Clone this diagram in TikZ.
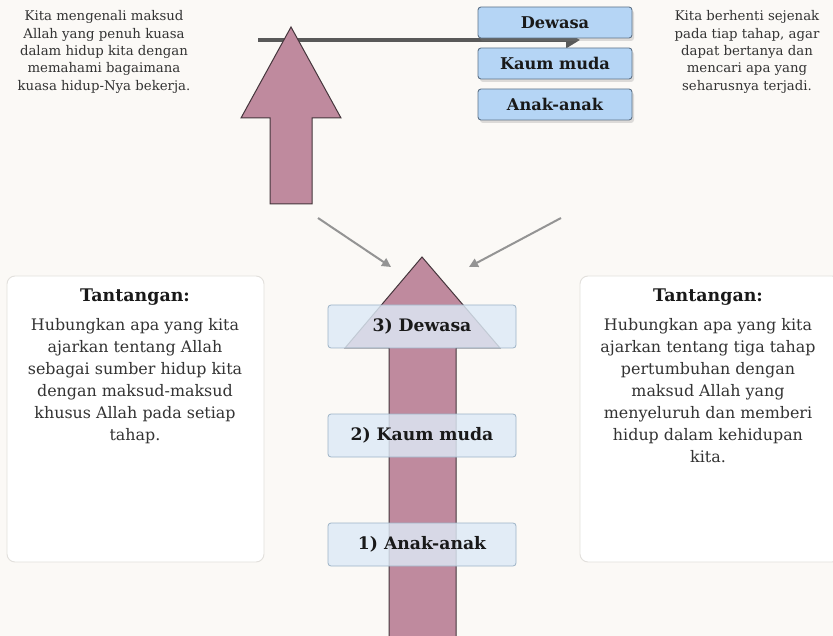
\documentclass[tikz,border=0pt]{standalone}
\usepackage{fontspec}
\setmainfont{DejaVu Serif}
\usetikzlibrary{arrows.meta,shadows}
\definecolor{bgc}{HTML}{FBF9F6}
\definecolor{mauve}{HTML}{BF8A9E}
\definecolor{mauveline}{HTML}{45363C}
\definecolor{topblue}{HTML}{B5D5F5}
\definecolor{topbord}{HTML}{5F7388}
\definecolor{stagefill}{HTML}{DDEAF6}
\definecolor{stagebord}{HTML}{9DB3C6}
\definecolor{sidebord}{HTML}{E2E0DC}
\definecolor{txt}{HTML}{333333}
\begin{document}
\begin{tikzpicture}[x=1pt,y=-1pt,
  toptext/.style={align=center,text=txt,font=\fontsize{13.3}{17.3}\selectfont,inner sep=0pt},
  agebox/.style={draw=topbord,fill=topblue,line width=0.9pt,rounded corners=3pt,minimum width=154pt,minimum height=31pt,inner sep=0pt,font=\fontsize{16.2}{19}\selectfont\bfseries,text=black!90,drop shadow={shadow xshift=2pt,shadow yshift=-3pt,opacity=0.25}},
  stagebox/.style={draw=stagebord,fill=stagefill,fill opacity=0.82,text opacity=1,line width=0.8pt,rounded corners=3pt,minimum width=188pt,minimum height=43pt,inner sep=0pt,font=\fontsize{17.2}{20}\selectfont\bfseries,text=black!90},
  sidebox/.style={draw=sidebord,fill=white,line width=0.9pt,rounded corners=8pt},
  sidetext/.style={align=center,text=txt,font=\fontsize{15.9}{22}\selectfont,inner sep=0pt},
  sidehead/.style={font=\fontsize{17.4}{20}\selectfont\bfseries,text=black!90,inner sep=0pt},
  blockarrow/.style={fill=mauve,draw=mauveline,line width=1pt,line join=miter},
  grayarrow/.style={draw=black!42,line width=2pt,-{Triangle[length=9pt,width=9pt]}}]
\fill[bgc] (0,0) rectangle (833,636);
\useasboundingbox (0,0) rectangle (833,636);

% horizontal line with arrow
\coordinate (hl) at (258,40);
\coordinate (hr) at (580,40);
\draw[draw=black!65,line width=3.5pt,-{Triangle[length=14pt,width=16pt]}] (hl) -- (hr);

% small block arrow
\path[blockarrow] (270,204) -- (270,118) -- (241,118) -- (291,27) -- (341,118) -- (312,118) -- (312,204) -- cycle;

% top age boxes
\node[agebox] (dew) at (555,22.5) {Dewasa};
\node[agebox] (kaum) at (555,63.5) {Kaum muda};
\node[agebox] (anak) at (555,104.5) {Anak-anak};

% top texts
\node[toptext] (tl) at (104,52) {Kita mengenali maksud\\Allah yang penuh kuasa\\dalam hidup kita dengan\\memahami bagaimana\\kuasa hidup-Nya bekerja.};
\node[toptext] (tr) at (747,52) {Kita berhenti sejenak\\pada tiap tahap, agar\\dapat bertanya dan\\mencari apa yang\\seharusnya terjadi.};

% big block arrow
\path[blockarrow] (389,640) -- (389,348) -- (345,348) -- (422,257) -- (500,348) -- (456,348) -- (456,640) -- cycle;

% gray arrows
\coordinate (g1s) at (318,218);
\coordinate (g1e) at (391,267);
\coordinate (g2s) at (561,218);
\coordinate (g2e) at (469,267);
\draw[grayarrow] (g1s) -- (g1e);
\draw[grayarrow] (g2s) -- (g2e);

% stage boxes
\node[stagebox] (s3) at (422,326.5) {3) Dewasa};
\node[stagebox] (s2) at (422,435.5) {2) Kaum muda};
\node[stagebox] (s1) at (422,544.5) {1) Anak-anak};

% side boxes
\draw[sidebox] (7,276) rectangle (264,562);
\draw[sidebox] (580,276) rectangle (840,562);
\node[sidehead] (lh) at (135,297) {Tantangan:};
\node[sidetext,anchor=north] (lt) at (135,318) {Hubungkan apa yang kita\\ajarkan tentang Allah\\sebagai sumber hidup kita\\dengan maksud-maksud\\khusus Allah pada setiap\\tahap.};
\node[sidehead] (rh) at (708,297) {Tantangan:};
\node[sidetext,anchor=north] (rt) at (708,318) {Hubungkan apa yang kita\\ajarkan tentang tiga tahap\\pertumbuhan dengan\\maksud Allah yang\\menyeluruh dan memberi\\hidup dalam kehidupan\\kita.};
\end{tikzpicture}
\end{document}
